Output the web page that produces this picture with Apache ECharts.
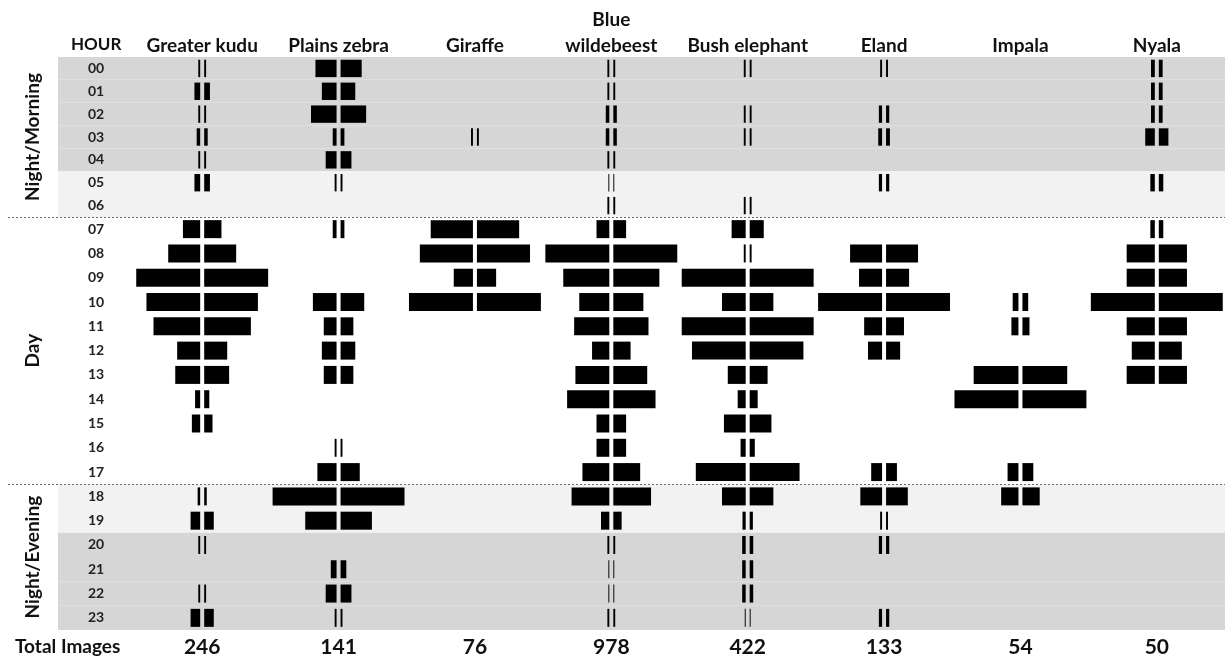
<!DOCTYPE html>
<html>
<head>
<meta charset="utf-8">
<script src="https://cdn.jsdelivr.net/npm/echarts@6/dist/echarts.min.js"></script>
<style>
  html, body { margin: 0; padding: 0; background: #fff; }
  #main { width: 1225px; height: 660px; }
</style>
</head>
<body>
<div id="main"></div>
<script>
  // hours and species columns
  const hours = ['00','01','02','03','04','05','06','07','08','09','10','11',
                 '12','13','14','15','16','17','18','19','20','21','22','23'];
  const species = ['Greater kudu', 'Plains zebra', 'Giraffe', 'Blue\nwildebeest',
                   'Bush elephant', 'Eland', 'Impala', 'Nyala'];
  const totalImages = [246, 141, 76, 978, 422, 133, 54, 50];

  // relative activity per hour (% of the busiest hour of each species)
  const kudu       = [3, 9, 3, 5.5, 3, 9, 0, 27, 50, 100, 84, 73, 36, 39, 8, 13, 0, 0, 4, 15, 3, 0, 3, 15];
  const zebra      = [33, 23, 40, 6, 17, 3, 0, 6, 0, 0, 37, 20, 23, 20, 0, 0, 3, 30, 100, 49, 0, 9, 17, 3];
  const giraffe    = [0, 0, 0, 3, 0, 0, 0, 66, 83, 30, 100, 0, 0, 0, 0, 0, 0, 0, 0, 0, 0, 0, 0, 0];
  const wildebeest = [3, 3, 5.5, 5.5, 3, 1.5, 3, 20, 100, 72, 47, 55, 27, 53, 66, 20, 20, 42, 59, 13, 3, 1.5, 1.5, 3];
  const elephant   = [3, 0, 3, 3, 0, 0, 3, 22, 3, 100, 37, 100, 84, 28, 12.5, 34, 8, 78, 37, 5, 5.5, 5.5, 5.5, 1.5];
  const eland      = [3, 0, 5, 6, 0, 5, 0, 0, 50, 36, 100, 28, 22, 0, 0, 0, 0, 17, 34, 3, 5, 0, 0, 5];
  const impala     = [0, 0, 0, 0, 0, 0, 0, 0, 0, 0, 9, 11, 0, 70, 100, 0, 0, 17, 27, 0, 0, 0, 0, 0];
  const nyala      = [6, 6, 6, 15, 0, 7, 0, 7, 44, 44, 100, 44, 36, 44, 0, 0, 0, 0, 0, 0, 0, 0, 0, 0];

  // periods of the day
  const nightHours = [0, 1, 2, 3, 4, 20, 21, 22, 23];
  const twilightHours = [5, 6, 18, 19];
  const periodLabels = ['Night/Morning', 'Day', 'Night/Evening'];
  const periodStart = [0, 7, 18];
  const periodEnd = [6, 17, 23];

  const speciesValues = [kudu, zebra, giraffe, wildebeest, elephant, eland, impala, nyala];
  // the morning block (00-06) sits in its own, slightly tighter grid
  const splitHour = 7;
  const blocks = [[0, splitHour], [splitHour, 24]];

  const FONT = 'Lato, "Open Sans", sans-serif';
  const chart = echarts.init(document.getElementById('main'));

  function bandSeries(g) {
    const [from, to] = blocks[g];
    const data = [];
    for (let h = from; h < to; h++) data.push([0, h - from, h]);
    return {
      type: 'custom', xAxisIndex: g, yAxisIndex: g, clip: false, silent: true, z: 0,
      data: data,
      renderItem: function (params, api) {
        const hi = api.value(2);
        const cs = params.coordSys;
        const y = api.coord([0, api.value(1)])[1];
        const bh = api.size([0, 1])[1];
        const children = [];
        let fill = null;
        if (nightHours.indexOf(hi) >= 0) fill = '#d6d6d6';
        else if (twilightHours.indexOf(hi) >= 0) fill = '#f2f2f2';
        if (fill) {
          children.push({
            type: 'rect',
            shape: { x: cs.x - 76, y: y - bh / 2, width: cs.width + 76, height: bh },
            style: { fill: fill }
          });
        }
        if (hi === periodStart[1] || hi === periodStart[2]) {
          const ly = Math.round(y - bh / 2) + 0.5;
          children.push({
            type: 'line',
            shape: { x1: 8, y1: ly, x2: cs.x + cs.width, y2: ly },
            style: { stroke: '#666', lineWidth: 1, lineDash: [2, 2] },
            z2: 5
          });
        }
        return { type: 'group', children: children };
      }
    };
  }

  function periodSeries(g) {
    const [from, to] = blocks[g];
    const data = [];
    periodLabels.forEach((n, i) => {
      if (periodStart[i] >= from && periodEnd[i] < to) data.push([0, periodStart[i] - from, periodEnd[i] - from, i]);
    });
    return {
      type: 'custom', xAxisIndex: g, yAxisIndex: g, clip: false, silent: true, z: 2,
      data: data,
      renderItem: function (params, api) {
        const bh = api.size([0, 1])[1];
        const y1 = api.coord([0, api.value(1)])[1] - bh / 2;
        const y2 = api.coord([0, api.value(2)])[1] + bh / 2;
        return {
          type: 'text',
          x: 33,
          y: (y1 + y2) / 2,
          rotation: Math.PI / 2,
          style: {
            text: periodLabels[api.value(3)],
            fill: '#111',
            font: 'bold 19px ' + FONT,
            align: 'center',
            verticalAlign: 'middle'
          }
        };
      }
    };
  }

  function barSeries(g) {
    const [from, to] = blocks[g];
    const data = [];
    speciesValues.forEach((vals, s) => {
      vals.forEach((v, h) => { if (v > 0 && h >= from && h < to) data.push([s, h - from, v]); });
    });
    return {
      type: 'custom', xAxisIndex: g, yAxisIndex: g, clip: false, z: 3,
      data: data,
      renderItem: function (params, api) {
        const c = api.coord([api.value(0), api.value(1)]);
        const bw = api.size([1, 0])[0];
        const bh = api.size([0, 1])[1];
        const maxHalf = bw * 0.469;
        const w = api.value(2) / 100 * maxHalf;
        const h = Math.min(bh * 0.76, 18);
        const gap = 2;
        return {
          type: 'group',
          children: [{
            type: 'rect',
            shape: { x: c[0] - gap - w, y: c[1] - h / 2, width: w, height: h },
            style: { fill: '#000' }
          }, {
            type: 'rect',
            shape: { x: c[0] + gap, y: c[1] - h / 2, width: w, height: h },
            style: { fill: '#000' }
          }]
        };
      }
    };
  }

  const hourAxis = (g) => ({
    type: 'category',
    gridIndex: g,
    data: hours.slice(blocks[g][0], blocks[g][1]),
    inverse: true,
    z: 10,
    axisLine: { show: false },
    axisTick: { show: false },
    axisLabel: {
      interval: 0,
      margin: 38,
      align: 'center',
      color: '#222',
      fontFamily: FONT,
      fontWeight: 'bold',
      fontSize: 14
    }
  });

  chart.setOption({
    animation: false,
    grid: [
      { left: 134, right: 0, top: 57, height: 160 },
      { left: 134, right: 0, top: 217, bottom: 30 }
    ],
    xAxis: [{
      type: 'category',
      gridIndex: 0,
      data: species,
      position: 'top',
      axisLine: { show: false },
      axisTick: { show: false },
      axisLabel: {
        interval: 0,
        margin: -2,
        lineHeight: 26,
        color: '#111',
        fontFamily: FONT,
        fontWeight: 'bold',
        fontSize: 19
      }
    }, {
      type: 'category',
      gridIndex: 1,
      data: species,
      position: 'bottom',
      axisLine: { show: false },
      axisTick: { show: false },
      axisLabel: {
        interval: 0,
        margin: 7,
        color: '#111',
        fontFamily: FONT,
        fontWeight: 'bold',
        fontSize: 21,
        formatter: (v, i) => String(totalImages[i])
      }
    }],
    yAxis: [hourAxis(0), hourAxis(1)],
    graphic: [
      { type: 'text', left: 71, top: 36, style: { text: 'HOUR', fill: '#111', font: 'bold 17px ' + FONT } },
      { type: 'text', left: 15, top: 637, style: { text: 'Total Images', fill: '#111', font: 'bold 19px ' + FONT } }
    ],
    series: [bandSeries(0), bandSeries(1), periodSeries(0), periodSeries(1), barSeries(0), barSeries(1)]
  });
</script>
</body>
</html>
